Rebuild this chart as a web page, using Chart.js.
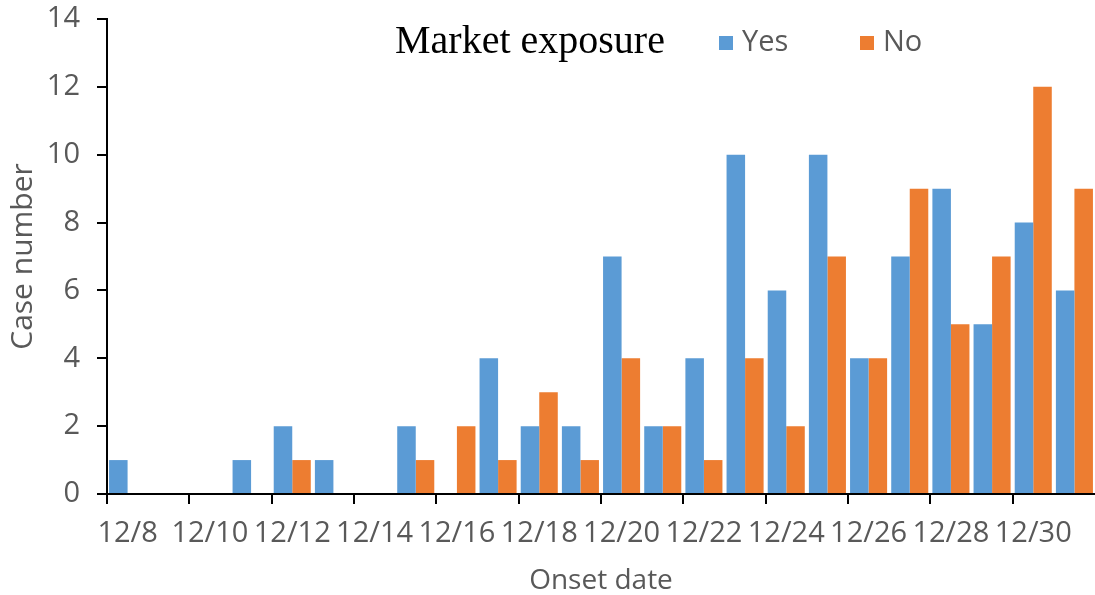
<!DOCTYPE html>
<html>
<head>
<meta charset="utf-8">
<script src="https://cdn.jsdelivr.net/npm/chart.js@4"></script>
<style>
  html, body { margin: 0; padding: 0; background: #fff; }
  canvas { display: block; }
</style>
</head>
<body>
<canvas id="chart" width="1095" height="595"></canvas>
<script>
// onset dates 12/8 .. 12/31
const dates = ["12/8", "12/9", "12/10", "12/11", "12/12", "12/13", "12/14", "12/15",
  "12/16", "12/17", "12/18", "12/19", "12/20", "12/21", "12/22", "12/23",
  "12/24", "12/25", "12/26", "12/27", "12/28", "12/29", "12/30", "12/31"];
const yesCases = [1, 0, 0, 1, 2, 1, 0, 2, 0, 4, 2, 2, 7, 2, 4, 10, 6, 10, 4, 7, 9, 5, 8, 6];
const noCases = [0, 0, 0, 0, 1, 0, 0, 1, 2, 1, 3, 1, 4, 2, 1, 4, 2, 7, 4, 9, 5, 7, 12, 9];

const BLUE = "#5B9BD5";
const ORANGE = "#ED7D31";
const GREY = "#595959";
const FONT = "'Open Sans', 'Noto Sans', sans-serif";

// legend drawn by hand so it can sit inside the plot next to the serif caption
const legendPlugin = {
  id: "marketLegend",
  afterDraw(chart) {
    const ctx = chart.ctx;
    ctx.save();
    ctx.textBaseline = "alphabetic";
    ctx.fillStyle = "#000";
    ctx.font = "40px 'Liberation Serif', 'Times New Roman', serif";
    ctx.fillText("Market exposure", 395, 53);

    const items = [
      { label: chart.data.datasets[0].label, color: chart.data.datasets[0].backgroundColor, x: 719 },
      { label: chart.data.datasets[1].label, color: chart.data.datasets[1].backgroundColor, x: 860 },
    ];
    ctx.font = "29px " + FONT;
    items.forEach((it) => {
      ctx.fillStyle = it.color;
      ctx.fillRect(it.x, 36, 14, 14);
      ctx.fillStyle = GREY;
      ctx.fillText(it.label, it.x + 23, 51);
    });
    ctx.restore();
  },
};

new Chart(document.getElementById("chart"), {
  type: "bar",
  data: {
    labels: dates,
    datasets: [
      { label: "Yes", data: yesCases, backgroundColor: BLUE, categoryPercentage: 0.9, barPercentage: 1 },
      { label: "No", data: noCases, backgroundColor: ORANGE, categoryPercentage: 0.9, barPercentage: 1 },
    ],
  },
  options: {
    responsive: false,
    animation: false,
    devicePixelRatio: 1,
    layout: { padding: { top: 19, right: 0, left: 0, bottom: 0 } },
    plugins: {
      legend: { display: false },
      tooltip: { enabled: false },
    },
    scales: {
      x: {
        afterFit: (scale) => {
          scale.height = 101;
          scale.paddingLeft = 0;
          scale.paddingRight = 0;
        },
        grid: {
          offset: true,
          drawOnChartArea: false,
          tickLength: 10,
          lineWidth: 2,
          color: (c) => (c.index % 2 === 0 ? "#000" : "rgba(0,0,0,0)"),
        },
        border: { display: true, color: "#000", width: 2 },
        ticks: {
          autoSkip: false,
          maxRotation: 0,
          minRotation: 0,
          padding: 12,
          color: GREY,
          font: { family: FONT, size: 29 },
          callback: (v, i) => (i % 2 === 0 ? dates[i] : ""),
        },
        title: {
          display: true,
          text: "Onset date",
          color: GREY,
          font: { family: FONT, size: 28, lineHeight: 1 },
          padding: { top: 0, bottom: 0 },
        },
      },
      y: {
        min: 0,
        max: 14,
        afterFit: (scale) => {
          scale.width = 107;
          scale.paddingTop = 0;
          scale.paddingBottom = 0;
        },
        grid: {
          drawOnChartArea: false,
          tickLength: 10,
          lineWidth: 2,
          color: "#000",
        },
        border: { display: true, color: "#000", width: 2 },
        ticks: {
          stepSize: 2,
          padding: 17,
          color: GREY,
          font: { family: FONT, size: 29 },
        },
        title: {
          display: true,
          text: "Case number",
          color: GREY,
          font: { family: FONT, size: 30, lineHeight: 1 },
          padding: { top: 8, bottom: 0 },
        },
      },
    },
  },
  plugins: [legendPlugin],
});
</script>
</body>
</html>
